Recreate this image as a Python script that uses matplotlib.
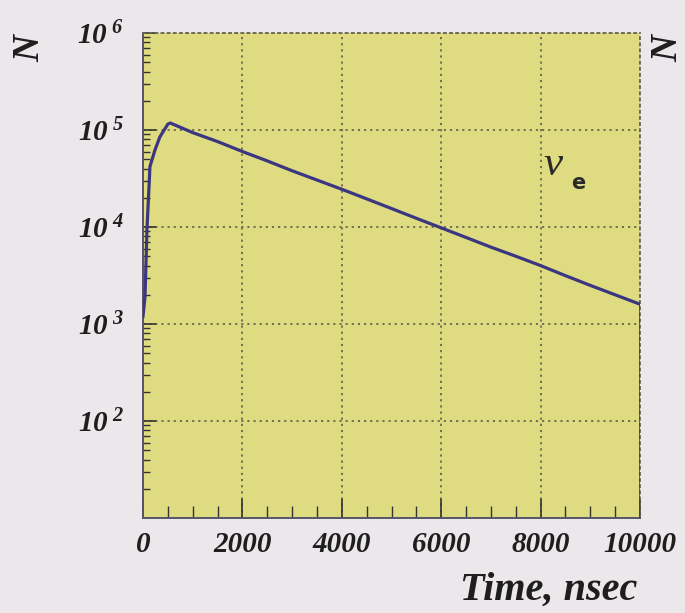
import matplotlib
matplotlib.use('Agg')
import matplotlib.pyplot as plt
from matplotlib.ticker import MultipleLocator, LogLocator, FixedLocator, NullFormatter
import numpy as np

### DATA
time_ns = [0, 40, 80, 140, 240, 340, 500, 550, 1000, 1500, 2000, 2500, 3000, 3500,
           4000, 4500, 5000, 5500, 6000, 6500, 7000, 7500, 8000, 8500, 9000, 9500, 10000]
counts = [1.2e3, 1.9e3, 9.5e3, 4.2e4, 6.2e4, 8.5e4, 1.15e5, 1.18e5, 9.4e4, 7.6e4,
          6.0e4, 4.8e4, 3.8e4, 3.05e4, 2.45e4, 1.95e4, 1.55e4, 1.23e4, 9.8e3,
          7.8e3, 6.2e3, 5.0e3, 4.0e3, 3.15e3, 2.5e3, 2.0e3, 1.6e3]
xticks = [0, 2000, 4000, 6000, 8000, 10000]
ydecades = [1e2, 1e3, 1e4, 1e5, 1e6]

plt.rcParams['mathtext.fontset'] = 'custom'
plt.rcParams['mathtext.rm'] = 'Liberation Serif:italic:bold'
plt.rcParams['mathtext.it'] = 'Liberation Serif:italic'

BG = '#ebe7ea'
PANEL = '#dfdb80'
LINE = '#3b3682'
GRID = '#6b6650'
INK = '#1e1e1e'
SERIF = 'Liberation Serif'

fig = plt.figure(figsize=(6.85, 6.13), dpi=100, facecolor=BG)
ax = fig.add_axes([143 / 685, 1 - 518 / 613, 497 / 685, 485 / 613])
ax.set_facecolor(PANEL)

ax.plot(time_ns, counts, color=LINE, lw=2.3, solid_joinstyle='round', zorder=3)
ax.vlines(time_ns[-1], 10, counts[-1], color=LINE, lw=1.8, zorder=3)

ax.set_yscale('log')
ax.set_xlim(0, 10000)
ax.set_ylim(10, 1e6)

# ticks
ax.xaxis.set_major_locator(FixedLocator(xticks))
ax.xaxis.set_minor_locator(MultipleLocator(500))
ax.yaxis.set_major_locator(FixedLocator(ydecades))
ax.yaxis.set_minor_locator(LogLocator(base=10, subs=np.arange(2, 10)))
ax.yaxis.set_minor_formatter(NullFormatter())
ax.tick_params(axis='both', which='both', direction='in', top=False, right=False,
               color='#333333')
ax.tick_params(axis='x', which='major', length=14, width=1.2, pad=9)
ax.tick_params(axis='x', which='minor', length=9, width=1.0)
ax.tick_params(axis='y', which='major', length=9, width=1.2, pad=14)
ax.tick_params(axis='y', which='minor', length=5, width=1.0)

ax.set_xticklabels([str(v) for v in xticks], fontfamily=SERIF, fontstyle='italic',
                   fontweight='bold', fontsize=21, color=INK)
exps = [int(np.log10(v)) for v in ydecades]
ax.set_yticklabels([r'$10^{\,\,%d}$' % e for e in exps], fontsize=21, color=INK)

# grid
ax.grid(True, which='major', linestyle=(0, (1.2, 2.2)), color=GRID, lw=1.3)
ax.set_axisbelow(True)

for side in ['left', 'bottom']:
    ax.spines[side].set_color('#555566')
    ax.spines[side].set_linewidth(1.4)
for side in ['top', 'right']:
    ax.spines[side].set_color(GRID)
    ax.spines[side].set_linestyle((0, (1.2, 2.2)))
    ax.spines[side].set_linewidth(1.3)

# labels
fig.text(30 / 685, 1 - 48 / 613, 'N', rotation=90, ha='center', va='center',
         fontfamily=SERIF, fontweight='bold', fontstyle='italic', fontsize=27,
         color=INK)
fig.text(668 / 685, 1 - 48 / 613, 'N', rotation=90, ha='center', va='center',
         fontfamily=SERIF, fontweight='bold', fontstyle='italic', fontsize=27,
         color=INK)
fig.text(637 / 685, 1 - 590 / 613, 'Time, nsec', ha='right', va='center',
         fontfamily=SERIF, fontweight='bold', fontstyle='italic', fontsize=29,
         color=INK)

ax.text(0.805, 0.728, 'ν', transform=ax.transAxes, fontsize=31, fontfamily=SERIF,
        fontstyle='italic', color='#2a2a2a', ha='left', va='center')
ax.text(0.862, 0.69, 'e', transform=ax.transAxes, fontsize=15, fontweight='bold',
        color='#2a2a2a', ha='left', va='center')

fig.savefig('out.png', dpi=100, facecolor=BG)
